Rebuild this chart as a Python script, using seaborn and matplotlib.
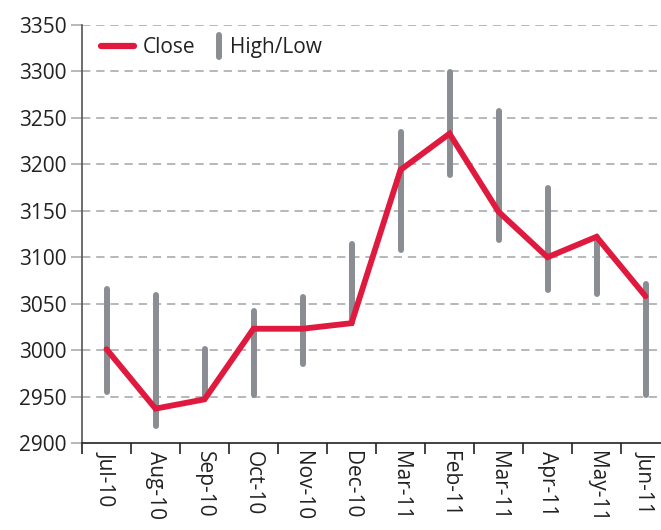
import matplotlib
matplotlib.use("Agg")
import matplotlib.pyplot as plt
from matplotlib.lines import Line2D
from matplotlib.legend_handler import HandlerBase
import seaborn as sns
import pandas as pd
import numpy as np

months = ["Jul-10", "Aug-10", "Sep-10", "Oct-10", "Nov-10", "Dec-10",
          "Mar-11", "Feb-11", "Mar-11", "Apr-11", "May-11", "Jun-11"]
close = [3001, 2937, 2947, 3023, 3023, 3029, 3194, 3233, 3149, 3100, 3122, 3058]
high = [3066, 3059, 3001, 3042, 3057, 3114, 3235, 3299, 3257, 3175, 3122, 3071]
low = [2955, 2918, 2948, 2952, 2985, 3029, 3108, 3188, 3119, 3065, 3060, 2952]

RED = "#E0193E"
GRAY = "#8A8E92"


class VBarHandler(HandlerBase):
    def create_artists(self, legend, orig_handle, xdescent, ydescent,
                       width, height, fontsize, trans):
        x = width - xdescent - 2
        yc = height / 2 - ydescent
        ln = Line2D([x, x], [yc - 8, yc + 8], color=GRAY, lw=4.3,
                    solid_capstyle="round", transform=trans)
        return [ln]


sns.set_theme(style="white")
plt.rcParams["font.family"] = ["Open Sans", "DejaVu Sans"]

df = pd.DataFrame({"pos": np.arange(len(months)), "close": close,
                   "high": high, "low": low})

fig = plt.figure(figsize=(6.61, 5.30), dpi=100)
ax = fig.add_axes([82 / 661, 1 - 443 / 530, (670 - 82) / 661, (443 - 25) / 530])

ax.set_ylim(2900, 3350)
ax.set_xlim(-0.5, len(months) - 0.5)

yt = np.arange(2900, 3351, 50)
for v in yt[1:]:
    ax.axhline(v, color="#A9ABAE", lw=1.2, ls=(0, (5, 3.5)), zorder=0)

ax.vlines(df["pos"], df["low"], df["high"], color=GRAY, lw=4.3,
          capstyle="round", zorder=2)
sns.lineplot(data=df, x="pos", y="close", color=RED, lw=4.2, ax=ax,
             zorder=3, legend=False)
for l in ax.get_lines():
    l.set_solid_joinstyle("miter")

ax.set_xlabel("")
ax.set_ylabel("")
ax.set_yticks(yt)
ax.set_yticklabels([str(v) for v in yt], fontsize=15, color="#222222")
ax.tick_params(axis="y", which="major", length=8, width=1.2, color="#A9ABAE",
               left=True, pad=3)

ax.set_xticks(df["pos"])
ax.set_xticklabels(months, rotation=270, fontsize=15, color="#222222")
ax.tick_params(axis="x", which="major", length=0, pad=6)
ax.set_xticks(np.arange(-0.5, len(months), 1), minor=True)
ax.tick_params(axis="x", which="minor", length=8, width=1.2, color="#222222",
               bottom=True)

for s in ["top", "right"]:
    ax.spines[s].set_visible(False)
ax.spines["left"].set_color("#555555")
ax.spines["left"].set_linewidth(1.2)
ax.spines["bottom"].set_color("#222222")
ax.spines["bottom"].set_linewidth(1.2)

bar_handle = Line2D([0], [0], color=GRAY, lw=4.3)
handles = [Line2D([0], [0], color=RED, lw=4.5, solid_capstyle="round"),
           bar_handle]
leg = ax.legend(handles, ["Close", "High/Low"], loc="upper left", ncol=2,
                frameon=False, fontsize=15, handlelength=1.6,
                columnspacing=-0.3, handletextpad=0.4,
                bbox_to_anchor=(0.0, 1.015),
                handler_map={bar_handle: VBarHandler()})
for t in leg.get_texts():
    t.set_color("#222222")

fig.savefig("out.png", dpi=100)
